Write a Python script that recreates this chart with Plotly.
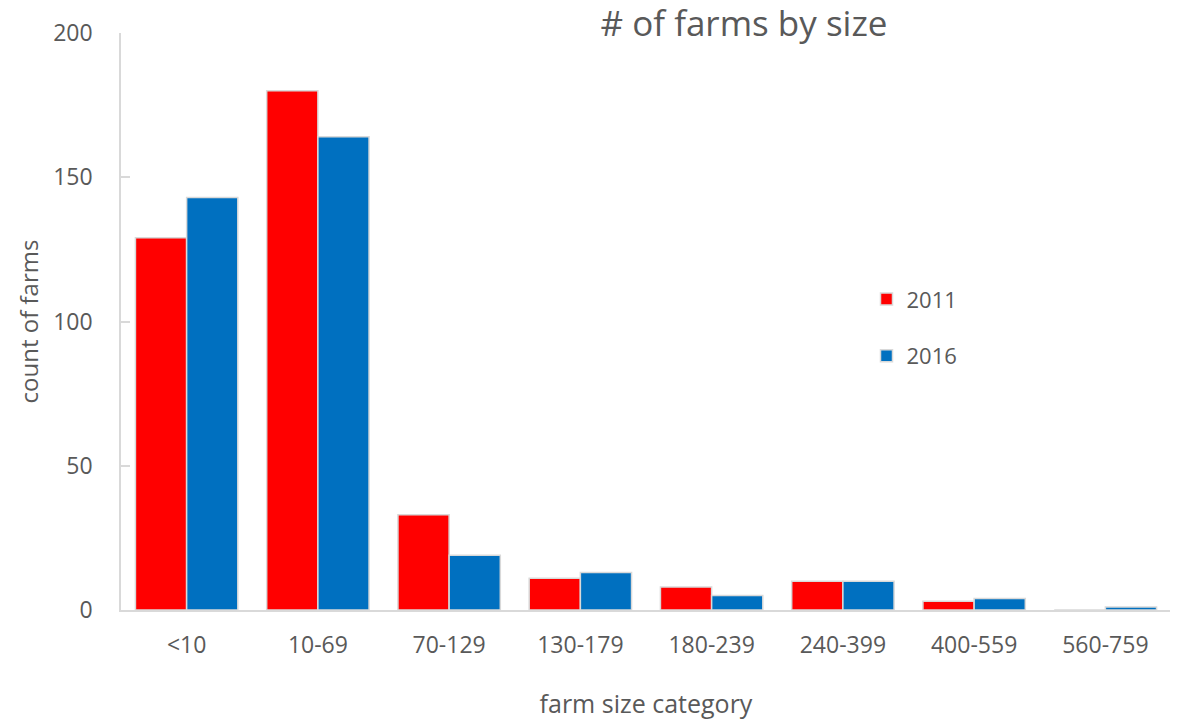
import plotly.graph_objects as go

categories = ["<10", "10-69", "70-129", "130-179", "180-239", "240-399", "400-559", "560-759"]
farms_2011 = [129, 180, 33, 11, 8, 10, 3, 0]
farms_2016 = [143, 164, 19, 13, 5, 10, 4, 1]

_TXT = "#595959"
_AXIS = "#d9d9d9"

fig = go.Figure()
fig.add_trace(go.Bar(
    x=categories, y=farms_2011, name="2011", legendgroup="a",
    marker=dict(color="#ff0000", line=dict(color=_AXIS, width=1.5)),
))
fig.add_trace(go.Bar(
    x=categories, y=farms_2016, name="2016", legendgroup="b",
    marker=dict(color="#0070c0", line=dict(color=_AXIS, width=1.5)),
))

fig.update_xaxes(
    showline=True, linecolor=_AXIS, linewidth=1.5, showgrid=False,
    ticks="", ticklabelstandoff=14,
    tickfont=dict(size=23, color=_TXT),
    title=dict(text="farm size category", font=dict(size=25, color=_TXT), standoff=36),
)
fig.update_yaxes(
    range=[0, 200], tickvals=[0, 50, 100, 150, 200],
    showline=True, linecolor=_AXIS, linewidth=1.5, showgrid=False, zeroline=False,
    ticks="inside", ticklen=9, tickcolor=_AXIS, tickwidth=1.5, ticklabelstandoff=22,
    tickfont=dict(size=23, color=_TXT),
    title=dict(text="count of farms", font=dict(size=24, color=_TXT), standoff=8),
)
# page has an 8px body margin, so the figure is 8px smaller than the window
fig.update_layout(
    title=dict(text="# of farms by size", x=(744 - 8) / 1170, xanchor="center",
               y=0.978, yanchor="middle", font=dict(size=35, color=_TXT)),
    width=1170, height=713,
    barmode="group", bargap=0.22, bargroupgap=0,
    plot_bgcolor="white", paper_bgcolor="white",
    font=dict(family="Open Sans, sans-serif", color=_TXT),
    margin=dict(l=113, r=7, t=25, b=102),
    legend=dict(x=0.71, y=0.575, xanchor="left", yanchor="top",
                font=dict(size=22, color=_TXT), tracegroupgap=25, bgcolor="rgba(0,0,0,0)"),
)

fig.write_html("out.html")
